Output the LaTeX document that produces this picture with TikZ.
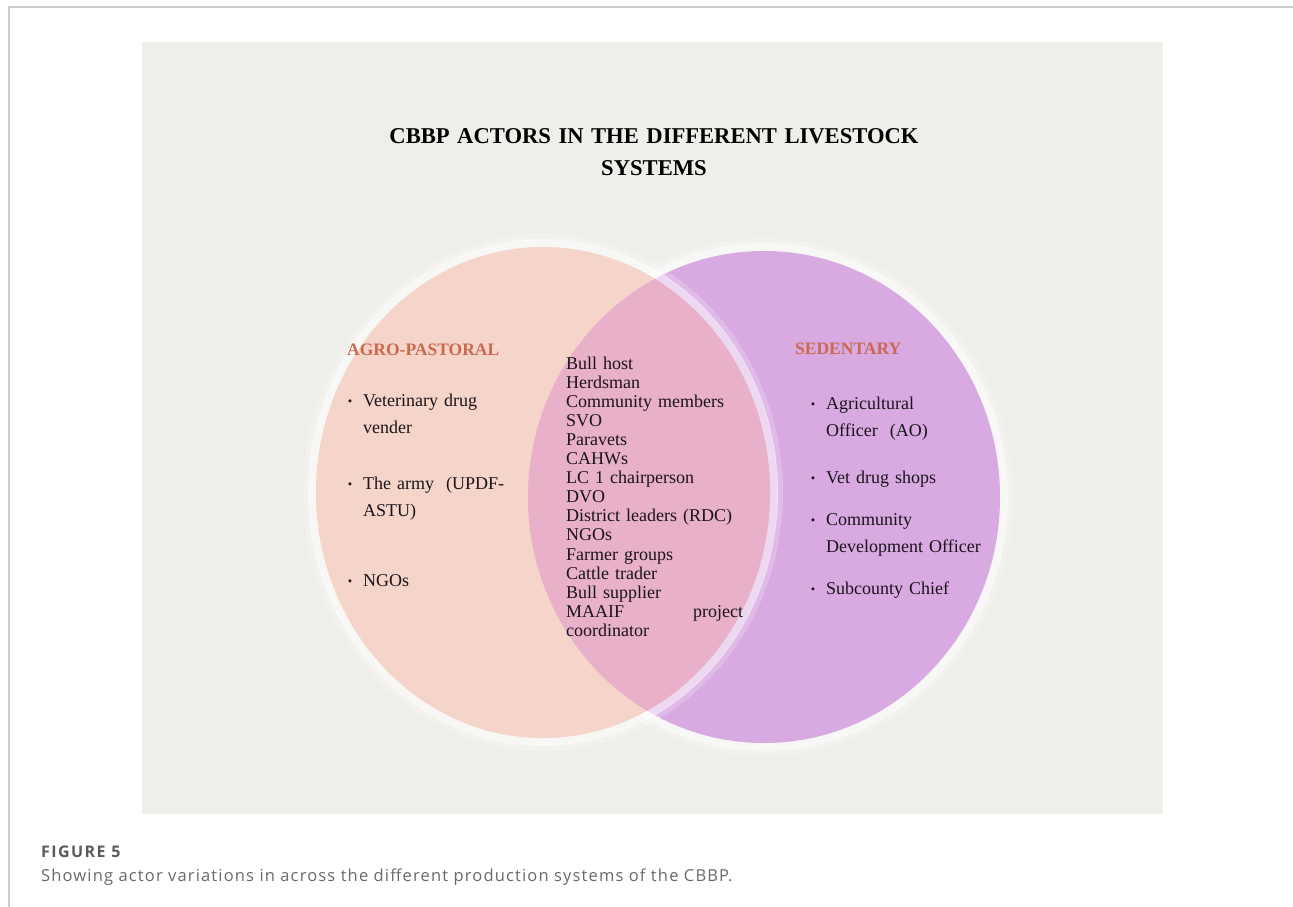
\documentclass[tikz,border=0pt]{standalone}
\usepackage{fontspec}
\setmainfont{Liberation Serif}
\newfontfamily\capfont[LetterSpace=7]{Open Sans}
\newfontfamily\capheadfont[LetterSpace=9]{Open Sans}
\begin{document}
\begin{tikzpicture}[x=1pt,y=-1pt,
  panelbg/.style={fill={rgb,255:red,239;green,238;blue,233}},
  peach/.style={fill={rgb,255:red,245;green,212;blue,202}},
  lilac/.style={fill={rgb,255:red,217;green,169;blue,226}},
  overlap/.style={fill={rgb,255:red,233;green,176;blue,201}},
  glow/.style={draw=white,draw opacity=0.55,line width=8pt},
  haze/.style={draw=white,draw opacity=0.22,line width=6pt},
  titletext/.style={font=\fontsize{22.6}{32}\selectfont\bfseries,align=center,text width=700pt,anchor=base,inner sep=0pt},
  headtext/.style={font=\fontsize{17.5}{20}\selectfont\bfseries,text={rgb,255:red,204;green,104;blue,80},anchor=base west,inner sep=0pt},
  itemtext/.style={font=\fontsize{18}{27}\selectfont,align=left,text width=190pt,anchor=base west,inner sep=0pt,text={rgb,255:red,25;green,20;blue,25}},
  listtext/.style={font=\fontsize{18}{19.1}\selectfont,align=left,anchor=base west,inner sep=0pt,text width=177pt,text={rgb,255:red,25;green,20;blue,25}},
  bul/.style={font=\fontsize{12.5}{12}\selectfont,anchor=base,inner sep=0pt,text={rgb,255:red,25;green,20;blue,25}},
  framerule/.style={draw={rgb,255:red,205;green,205;blue,205},line width=1.4pt}
]
\useasboundingbox (0,0) rectangle (1293,907);
\fill[white] (0,0) rectangle (1293,907);

% page frame
\coordinate (fA) at (9,907);
\coordinate (fB) at (9,7);
\coordinate (fC) at (1293,7);
\draw[framerule] (fA) -- (fB) -- (fC);

% figure panel
\fill[panelbg] (142,42) rectangle (1163,814);

% Venn ellipses
\coordinate (L) at (543,492.5);
\coordinate (R) at (764,497);
\draw[haze] (R) ellipse [x radius=246pt, y radius=256pt];
\draw[glow] (R) ellipse [x radius=240pt, y radius=250pt];
\fill[lilac] (R) ellipse [x radius=236pt, y radius=246pt];
\draw[haze] (L) ellipse [x radius=237pt, y radius=255.5pt];
\draw[glow] (L) ellipse [x radius=231pt, y radius=249.5pt];
\fill[peach] (L) ellipse [x radius=227pt, y radius=245.5pt];
\begin{scope}
  \clip (L) ellipse [x radius=227pt, y radius=245.5pt];
  \fill[overlap] (R) ellipse [x radius=236pt, y radius=246pt];
\end{scope}

% title
\node[titletext] (title) at (654,143) {CBBP ACTORS IN THE DIFFERENT LIVESTOCK\\SYSTEMS};

% agro-pastoral set
\node[headtext] (agro) at (347,355) {AGRO-PASTORAL};
\node[bul] (ab1) at (350,405) {•};
\node[itemtext] (a1) at (363,406) {Veterinary drug\\vender};
\node[bul] (ab2) at (350,488) {•};
\node[itemtext] (a2) at (363,489) {The army\ \ (UPDF-\\ASTU)};
\node[bul] (ab3) at (350,585) {•};
\node[itemtext] (a3) at (363,586) {NGOs};

% shared actors
\node[listtext] (shared) at (566,369) {Bull host\\Herdsman\\Community members\\SVO\\Paravets\\CAHWs\\LC 1 chairperson\\DVO\\District leaders (RDC)\\NGOs\\Farmer groups\\Cattle trader\\Bull supplier\\MAAIF\hfill project\\coordinator};

% sedentary set
\node[headtext] (sed) at (795,354) {SEDENTARY};
\node[bul] (sb1) at (813,408) {•};
\node[itemtext] (s1) at (826,409) {Agricultural\\Officer\ \ (AO)};
\node[bul] (sb2) at (813,482) {•};
\node[itemtext] (s2) at (826,483) {Vet drug shops};
\node[bul] (sb3) at (813,524) {•};
\node[itemtext] (s3) at (826,525) {Community\\Development Officer};
\node[bul] (sb4) at (813,593) {•};
\node[itemtext] (s4) at (826,594) {Subcounty Chief};

% caption
\node[anchor=base west,inner sep=0pt,font=\capheadfont\fontsize{16}{18}\selectfont\bfseries,text={rgb,255:red,90;green,90;blue,90}] (fig) at (41,857) {FIGURE 5};
\node[anchor=base west,inner sep=0pt,font=\capfont\fontsize{16.5}{18}\selectfont,text={rgb,255:red,105;green,105;blue,105}] (cap) at (41,881) {Showing actor variations in across the different production systems of the CBBP.};
\end{tikzpicture}
\end{document}
